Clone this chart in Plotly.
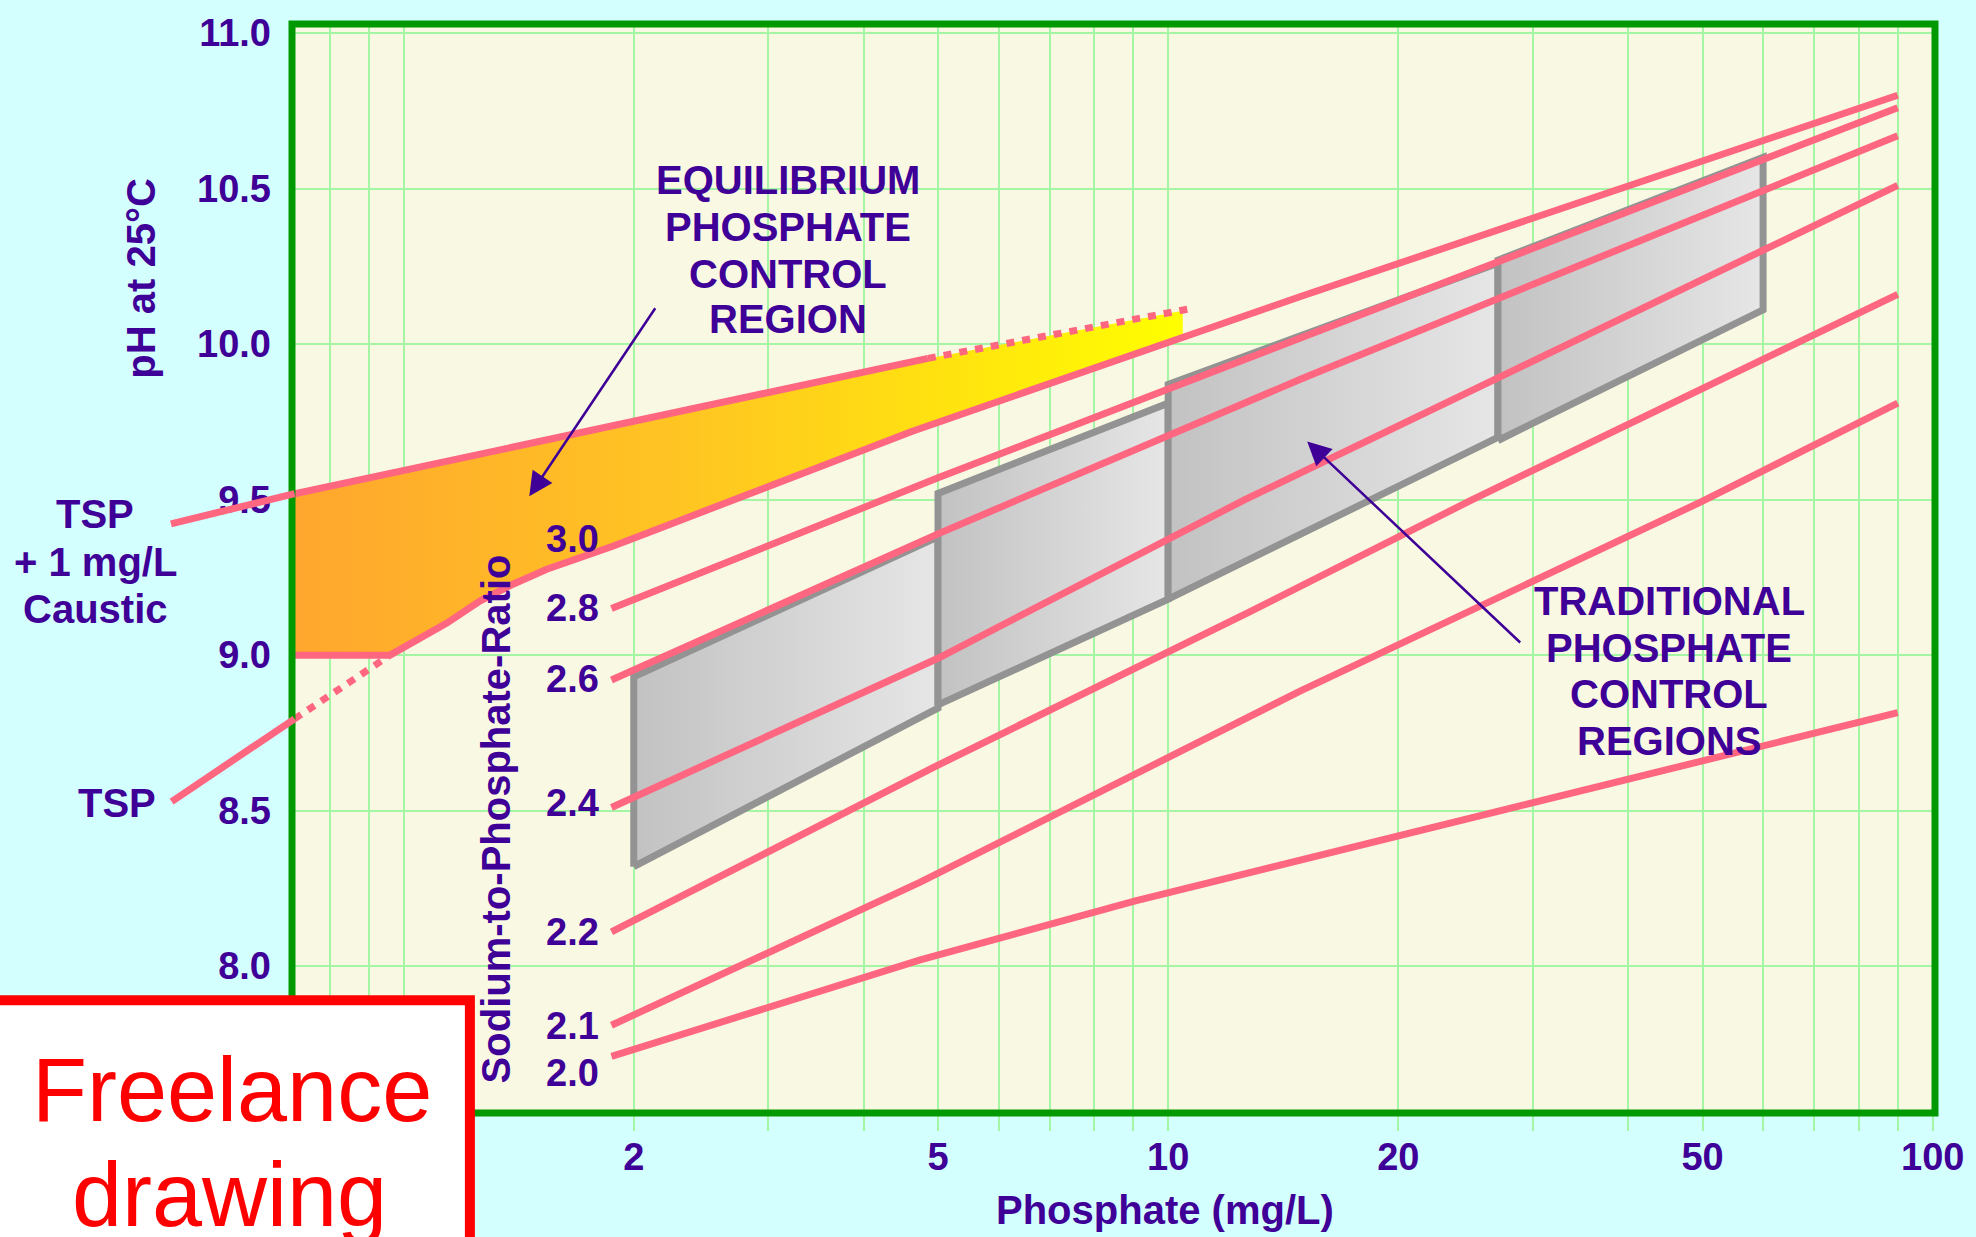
import numpy as np
import plotly.graph_objects as go

# ------------------------------------------------------------------ data
ph_ticks = [8.0, 8.5, 9.0, 9.5, 10.0, 10.5, 11.0]
ph_tick_text = ["8.0", "8.5", "9.0", "9.5", "10.0", "10.5", "11.0"]
phos_ticks = [2, 5, 10, 20, 50, 100]
phos_tick_text = ["2", "5", "10", "20", "50", "100"]
phos_minor = [0.8, 0.9, 1, 3, 4, 6, 7, 8, 9, 30, 40, 60, 70, 80, 90]

ratio_labels = ["3.0", "2.8", "2.6", "2.4", "2.2", "2.1", "2.0"]
r30_x = [0.96, 1.028, 1.139, 1.258, 1.390, 1.539, 1.700, 1.877, 2.080, 2.297, 2.537,
         2.810, 3.296, 4.62, 10.35, 14.9, 90]
r30_y = [9.0, 9.039, 9.103, 9.174, 9.228, 9.276, 9.312, 9.350, 9.392, 9.432, 9.474,
         9.519, 9.583, 9.719, 10.018, 10.153, 10.80]
r28_x = [1.87, 5, 90]
r28_y = [9.15, 9.57, 10.76]
r26_x = [1.87, 5, 15, 90]
r26_y = [8.92, 9.39, 9.89, 10.67]
r24_x = [1.87, 5, 12.6, 90]
r24_y = [8.51, 8.99, 9.50, 10.51]
r22_x = [1.87, 4.94, 12.8, 25, 90]
r22_y = [8.11, 8.64, 9.14, 9.50, 10.16]
r21_x = [1.87, 4.74, 14.9, 50, 90]
r21_y = [7.81, 8.27, 8.885, 9.495, 9.81]
r20_x = [1.87, 4.74, 9.06, 90]
r20_y = [7.71, 8.02, 8.21, 8.815]

# TSP + 1 mg/L caustic curve (upper bound of equilibrium region)
caustic_out_x = [0.494, 0.72]
caustic_out_y = [9.421, 9.519]
caustic_x = [0.715, 4.85]
caustic_y = [9.517, 9.954]
caustic_dot_x = [4.85, 10.7]
caustic_dot_y = [9.954, 10.114]
# TSP curve
tsp_out_x = [0.495, 0.72]
tsp_out_y = [8.526, 8.795]
tsp_dot_x = [0.72, 0.96]
tsp_dot_y = [8.795, 9.0]
floor_x = [0.715, 0.96]
floor_y = [9.0, 9.0]
# right edge of the equilibrium fill
eq_right_x = 10.45
eq_right_top = 10.107
eq_right_bottom = 10.03

# traditional control boxes
box_x = [[2, 5], [5, 10], [10, 27], [27, 60]]
box_top = [[8.93, 9.38], [9.52, 9.81], [9.87, 10.26], [10.27, 10.60]]
box_bottom = [[8.32, 8.83], [8.84, 9.18], [9.18, 9.70], [9.69, 10.11]]

# arrows (tail -> head)
eq_arrow = [(2.14, 10.12), (1.46, 9.511)]
trad_arrow = [(29.0, 9.036), (15.2, 9.687)]

eq_text = ["EQUILIBRIUM", "PHOSPHATE", "CONTROL", "REGION"]
trad_text = ["TRADITIONAL", "PHOSPHATE", "CONTROL", "REGIONS"]
caustic_text = ["TSP", "+ 1 mg/L", "Caustic"]

# ------------------------------------------------------------------ style
W, H = 1976, 1237
L, R, T, B = 292, 1936, 22, 1113
PINK = "#FF6680"
INDIGO = "#3F0097"
GRID = "#A4F5A4"
FONT = "Liberation Sans, Arial, sans-serif"


def xp(px):
    return (px - L) / (R - L)


def yp(py):
    return (B - py) / (B - T)


fig = go.Figure()

# equilibrium region fill
low = [(x, y) for x, y in zip(r30_x, r30_y) if x < eq_right_x][::-1]
fill_x = caustic_x + [eq_right_x, eq_right_x] + [p[0] for p in low] + [floor_x[0]]
fill_y = caustic_y + [eq_right_top, eq_right_bottom] + [p[1] for p in low] + [floor_y[0]]
fig.add_trace(go.Scatter(
    x=fill_x, y=fill_y, mode="lines", fill="toself", line=dict(width=0),
    fillgradient=dict(type="horizontal",
                      colorscale=[[0, "#FFA62E"], [0.45, "#FFC622"], [0.75, "#FFE40E"], [1, "#FFFF00"]]),
    hoverinfo="skip", showlegend=False))

# traditional boxes
for bx, bt, bb in zip(box_x, box_top, box_bottom):
    fig.add_trace(go.Scatter(
        x=[bx[0], bx[0], bx[1], bx[1], bx[0]],
        y=[bb[0], bt[0], bt[1], bb[1], bb[0]],
        mode="lines", fill="toself",
        line=dict(color="#939393", width=7),
        fillgradient=dict(type="horizontal", colorscale=[[0, "#C2C2C2"], [1, "#E6E6E6"]]),
        hoverinfo="skip", showlegend=False))

# pink ratio lines
for xs, ys in [(r30_x, r30_y), (r28_x, r28_y), (r26_x, r26_y), (r24_x, r24_y),
               (r22_x, r22_y), (r21_x, r21_y), (r20_x, r20_y),
               (caustic_x, caustic_y), (floor_x, floor_y)]:
    fig.add_trace(go.Scatter(x=xs, y=ys, mode="lines", line=dict(color=PINK, width=7),
                             hoverinfo="skip", showlegend=False))
for xs, ys in [(caustic_dot_x, caustic_dot_y), (tsp_dot_x, tsp_dot_y)]:
    fig.add_trace(go.Scatter(x=xs, y=ys, mode="lines",
                             line=dict(color=PINK, width=7, dash="8px,8px"),
                             hoverinfo="skip", showlegend=False))

annotations = []
# segments that run outside the frame
for xs, ys in [(caustic_out_x, caustic_out_y), (tsp_out_x, tsp_out_y)]:
    annotations.append(dict(
        x=np.log10(xs[1]), y=ys[1], ax=np.log10(xs[0]), ay=ys[0],
        xref="x", yref="y", axref="x", ayref="y", text="", showarrow=True,
        arrowhead=0, arrowwidth=7, arrowcolor=PINK, standoff=0, startstandoff=0,
        font=dict(size=1)))
# pointer arrows
for (tx, ty), (hx, hy) in [eq_arrow, trad_arrow]:
    annotations.append(dict(
        x=np.log10(hx), y=hy, ax=np.log10(tx), ay=ty,
        xref="x", yref="y", axref="x", ayref="y", text="", showarrow=True,
        arrowhead=2, arrowsize=1.9, arrowwidth=2.5, arrowcolor=INDIGO,
        standoff=0, startstandoff=0, font=dict(size=1)))

bold = dict(family=FONT, color=INDIGO, size=40, weight="bold")


def txt(s, px, py, size=40, angle=0, xanchor="center", font=None):
    f = dict(bold) if font is None else font
    f["size"] = size
    return dict(text=s, x=xp(px), y=yp(py), xref="paper", yref="paper",
                xanchor=xanchor, yanchor="middle", showarrow=False,
                textangle=angle, font=f)


for s, py in zip(eq_text, [178, 225, 272, 318]):
    annotations.append(txt(s, 788, py))
for s, py in zip(trad_text, [600, 647, 693, 740]):
    annotations.append(txt(s, 1670, py))
for s, py in zip(caustic_text, [513, 561, 608]):
    annotations.append(txt(s, 95, py))
annotations.append(txt("TSP", 117, 802))
for s, py in zip(ratio_labels, [538, 607, 678, 802, 932, 1026, 1073]):
    annotations.append(txt(s, 573, py, size=38))
annotations.append(txt("pH at 25°C", 140, 277, angle=-90))
annotations.append(txt("Sodium-to-Phosphate-Ratio", 496, 818, angle=-90))
annotations.append(txt("Phosphate (mg/L)", 1166, 1210))
red = dict(family=FONT, color="#FF0000", size=90)
annotations.append(txt("Freelance", 232, 1090, size=90, font=red))
annotations.append(txt("drawing", 229, 1195, size=90, font=red))

shapes = [
    dict(type="rect", xref="paper", yref="paper", x0=0, x1=1, y0=0, y1=1,
         line=dict(color="#009900", width=7), layer="above"),
    dict(type="rect", xref="paper", yref="paper", x0=xp(-20), x1=xp(470),
         y0=yp(1260), y1=yp(1000), fillcolor="white",
         line=dict(color="#FF0000", width=10), layer="above"),
]

fig.update_layout(
    width=W, height=H, autosize=False,
    margin=dict(l=L, r=W - R, t=T, b=H - B, pad=0),
    paper_bgcolor="#D4FFFF", plot_bgcolor="#F9F9E3",
    showlegend=False, annotations=annotations, shapes=shapes,
    xaxis=dict(type="log", range=[-0.146, 2.003], tickmode="array",
               tickvals=phos_ticks, ticktext=phos_tick_text,
               showgrid=True, gridcolor=GRID, gridwidth=1.5,
               ticks="outside", ticklen=17, tickcolor=GRID, tickwidth=1.5,
               tickfont=dict(family=FONT, size=38, color=INDIGO, weight="bold"),
               ticklabelstandoff=-7,
               minor=dict(tickmode="array", tickvals=phos_minor, showgrid=True,
                          gridcolor=GRID, gridwidth=1.5, ticks="outside",
                          ticklen=17, tickcolor=GRID, tickwidth=1.5),
               showline=False, zeroline=False, fixedrange=True),
    yaxis=dict(range=[7.528, 11.029], tickmode="array", tickvals=ph_ticks,
               ticktext=ph_tick_text, showgrid=True, gridcolor=GRID, gridwidth=2,
               ticks="", tickfont=dict(family=FONT, size=38, color=INDIGO, weight="bold"),
               ticklabelstandoff=20, showline=False, zeroline=False, fixedrange=True),
)

fig.write_html("out.html", config={"displayModeBar": False},
               post_script="document.body.style.margin='0px';")
